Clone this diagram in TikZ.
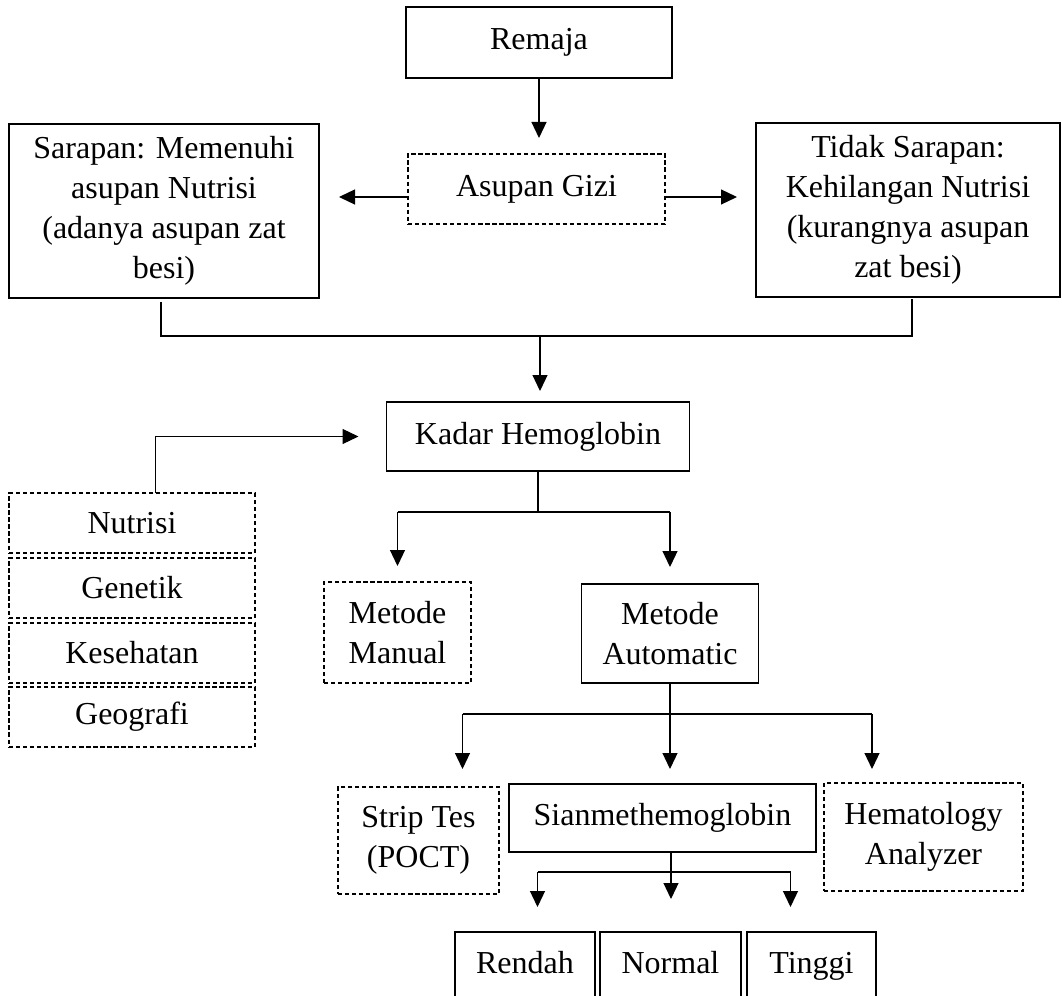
\documentclass[tikz,border=0pt]{standalone}
\usepackage{fontspec}
\setmainfont{Liberation Serif}
\usetikzlibrary{arrows.meta}

\tikzset{
  box/.style={draw, line width=0.7pt, align=center, inner sep=0pt, outer sep=0pt},
  dbox/.style={box, dash pattern=on 2.4pt off 1.6pt},
  lvl/.style={box, minimum height=1.36cm, text height=0.45cm, text depth=0.15cm},
  arr/.style={-{Triangle[length=0.32cm,width=0.3cm]}, line width=0.7pt},
  ln/.style={line width=0.7pt}
}

\begin{document}
\begin{tikzpicture}[font=\fontsize{18.2pt}{22.7pt}\selectfont]
  \useasboundingbox (0,0) rectangle (21.24,-19.92);
  \clip (0,0) rectangle (21.24,-19.92);
  % Remaja and intake
  \node[box, minimum width=5.32cm, minimum height=1.42cm] (remaja) at (10.78,-0.85) {Remaja};
  \node[dbox, minimum width=5.14cm, minimum height=1.4cm] (asupan) at (10.73,-3.78) {Asupan Gizi};
  \node[box, minimum width=6.2cm, minimum height=3.48cm] (sarapan) at (3.28,-4.22)
    {Sarapan: Memenuhi\\asupan Nutrisi\\(adanya asupan zat\\besi)};
  \node[box, minimum width=6.08cm, minimum height=3.48cm] (tidak) at (18.16,-4.2)
    {Tidak Sarapan:\\Kehilangan Nutrisi\\(kurangnya asupan\\zat besi)};
  \draw[arr, shorten >=0.32cm] (remaja.south) -- (remaja.south |- asupan.north);
  \coordinate (gl) at ([yshift=-0.16cm]asupan.west);
  \coordinate (gr) at ([yshift=-0.16cm]asupan.east);
  \draw[arr, shorten >=0.4cm] (gl) -- (gl -| sarapan.east);
  \draw[arr, shorten >=0.38cm] (gr) -- (gr -| tidak.west);
  % Hemoglobin
  \node[box, minimum width=6.06cm, minimum height=1.38cm] (kadar) at (10.76,-8.73) {Kadar Hemoglobin};
  \coordinate (j1) at (10.8,-6.72);
  \coordinate (s1) at ([xshift=-0.06cm,yshift=-0.07cm]sarapan.south);
  \coordinate (t1) at ([xshift=0.08cm,yshift=-0.04cm]tidak.south);
  \draw[ln] (s1) -- (s1 |- j1) -- (t1 |- j1) -- (t1);
  \draw[arr, shorten >=0.22cm] (j1) -- (j1 |- kadar.north);
  % factors
  \node[dbox, minimum width=4.92cm, minimum height=1.2cm] (nutrisi) at (2.64,-10.46) {Nutrisi};
  \node[dbox, minimum width=4.92cm, minimum height=1.2cm] (genetik) at (2.64,-11.76) {Genetik};
  \node[dbox, minimum width=4.92cm, minimum height=1.2cm] (sehat) at (2.64,-13.06) {Kesehatan};
  \node[dbox, minimum width=4.92cm, minimum height=1.2cm] (geo) at (2.64,-14.34) {Geografi};
  \draw[arr, shorten >=0.56cm] ([xshift=0.47cm]nutrisi.north) |- (kadar.west);
  % methods
  \node[dbox, minimum width=2.94cm, minimum height=2.02cm] (manual) at (7.95,-12.65) {Metode\\Manual};
  \node[box, minimum width=3.55cm, minimum height=1.98cm] (auto) at (13.4,-12.67) {Metode\\Automatic};
  \draw[ln] (kadar.south) -- ++(0,-0.82) coordinate (k1);
  \draw[ln] (manual.north |- k1) -- (auto.north |- k1);
  \draw[arr, shorten >=0.32cm] (manual.north |- k1) -- (manual.north);
  \draw[arr, shorten >=0.34cm] (auto.north |- k1) -- (auto.north);
  % automatic tools
  \node[dbox, minimum width=3.22cm, minimum height=2.14cm] (strip) at (8.37,-16.81) {Strip Tes\\(POCT)};
  \node[box, minimum width=6.14cm, minimum height=1.36cm] (sian) at (13.25,-16.36) {Sianmethemoglobin};
  \node[dbox, minimum width=3.98cm, minimum height=2.16cm] (hema) at (18.47,-16.74) {Hematology\\Analyzer};
  \draw[ln] (auto.south) -- ++(0,-0.62) coordinate (m1);
  \coordinate (a1) at (9.25,-14.28);
  \coordinate (a3) at (17.44,-14.28);
  \draw[ln] (a1) -- (a3);
  \draw[arr, shorten >=0.36cm] (a1) -- (a1 |- strip.north);
  \draw[arr, shorten >=0.3cm] (m1) -- (m1 |- sian.north);
  \draw[arr, shorten >=0.28cm] (a3) -- (a3 |- hema.north);
  % levels
  \node[lvl, minimum width=2.8cm] (rendah) at (10.5,-19.32) {Rendah};
  \node[lvl, minimum width=2.82cm] (normal) at (13.41,-19.32) {Normal};
  \node[lvl, minimum width=2.58cm] (tinggi) at (16.23,-19.32) {Tinggi};
  \draw[ln] ([xshift=0.17cm]sian.south) -- ++(0,-0.4) coordinate (n1);
  \coordinate (b1) at (10.75,-17.44);
  \coordinate (b3) at (15.81,-17.44);
  \draw[ln] (b1) -- (b3);
  \draw[arr, shorten >=0.5cm] (b1) -- (b1 |- rendah.north);
  \draw[arr, shorten >=0.66cm] (n1) -- (n1 |- normal.north);
  \draw[arr, shorten >=0.5cm] (b3) -- (b3 |- tinggi.north);
\end{tikzpicture}
\end{document}
